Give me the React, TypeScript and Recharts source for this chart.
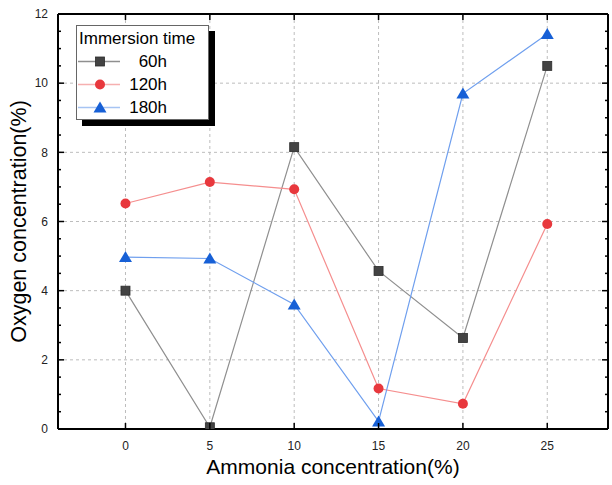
import { LineChart, Line, XAxis, YAxis, CartesianGrid, Legend } from 'recharts';

const ammonia = [0, 5, 10, 15, 20, 25];
const oxygen60h = [4.0, 0.05, 8.15, 4.57, 2.63, 10.5];
const oxygen120h = [6.52, 7.14, 6.93, 1.17, 0.73, 5.93];
const oxygen180h = [4.97, 4.93, 3.6, 0.22, 9.7, 11.42];
const seriesNames = ['60h', '120h', '180h'];

const xTicks = [0, 5, 10, 15, 20, 25];
const yMajor = [0, 2, 4, 6, 8, 10, 12];
const yTicks = [0, 0.5, 1, 1.5, 2, 2.5, 3, 3.5, 4, 4.5, 5, 5.5, 6, 6.5, 7, 7.5, 8, 8.5, 9, 9.5, 10, 10.5, 11, 11.5, 12];

const data = ammonia.map((x, i) => ({
    x,
    s60: oxygen60h[i],
    s120: oxygen120h[i],
    s180: oxygen180h[i],
}));

const FONT = '"Liberation Sans", Arial, sans-serif';

const colors = {
    line60: '#8f8f8f',
    dot60: '#434343',
    line120: '#f58e8e',
    dot120: '#e8383d',
    line180: '#6f9fee',
    dot180: '#1760d6',
};

const Square = ({ cx, cy }: any) => (
    <rect x={cx - 4.5} y={cy - 4.5} width={9} height={9} fill={colors.dot60} stroke="#2b2b2b" strokeWidth={0.8} />
);
const Circle = ({ cx, cy }: any) => <circle cx={cx} cy={cy} r={5} fill={colors.dot120} />;
const Triangle = ({ cx, cy }: any) => (
    <polygon points={`${cx},${cy - 6} ${cx - 6.5},${cy + 5} ${cx + 6.5},${cy + 5}`} fill={colors.dot180} />
);

const isMajor = (v: number) => v % 2 === 0;

const LeftTick = ({ x, y, payload }: any) => (
    <g>
        <line x1={x} y1={y} x2={x + (isMajor(payload.value) ? 6 : 3)} y2={y} stroke="#000" strokeWidth={1.5} />
        {isMajor(payload.value) && (
            <text x={x - 10} y={y} dy="0.35em" textAnchor="end" fontSize={12} fontFamily={FONT} fill="#222">
                {payload.value}
            </text>
        )}
    </g>
);

const RightTick = ({ x, y, payload }: any) => (
    <line x1={x} y1={y} x2={x - (isMajor(payload.value) ? 6 : 3)} y2={y} stroke="#000" strokeWidth={1.5} />
);

const BottomTick = ({ x, y, payload }: any) => (
    <g>
        <line x1={x} y1={y} x2={x} y2={y - 6} stroke="#000" strokeWidth={1.5} />
        <text x={x} y={y + 17} dy="0.35em" textAnchor="middle" fontSize={12} fontFamily={FONT} fill="#222">
            {payload.value}
        </text>
    </g>
);

const TopTick = ({ x, y }: any) => <line x1={x} y1={y} x2={x} y2={y + 6} stroke="#000" strokeWidth={1.5} />;

const legendRows = [
    { name: seriesNames[0], line: colors.line60, Marker: Square },
    { name: seriesNames[1], line: '#f6b0b0', Marker: Circle },
    { name: seriesNames[2], line: '#a6c4f3', Marker: Triangle },
];

const LegendBox = () => (
    <div
        style={{
            width: 133,
            height: 95,
            boxSizing: 'border-box',
            border: '1px solid #666',
            background: '#fff',
            boxShadow: '6px 6px 0 #000',
            fontFamily: FONT,
            color: '#000',
        }}
    >
        <div style={{ fontSize: 17, lineHeight: '22px', marginTop: 2, paddingLeft: 2, whiteSpace: 'nowrap' }}>
            Immersion time
        </div>
        {legendRows.map(({ name, line, Marker }) => (
            <div key={name} style={{ position: 'relative', height: 23 }}>
                <svg width={44} height={23} style={{ position: 'absolute', left: 1, top: 0 }}>
                    <line x1={0} y1={11.5} x2={42} y2={11.5} stroke={line} strokeWidth={1.5} />
                    <Marker cx={22} cy={11.5} />
                </svg>
                <div
                    style={{
                        position: 'absolute',
                        left: 48,
                        width: 42,
                        textAlign: 'right',
                        fontSize: 17,
                        lineHeight: '23px',
                    }}
                >
                    {name}
                </div>
            </div>
        ))}
    </div>
);

export default function App() {
    return (
        <div style={{ position: 'absolute', left: 0, top: 0 }}>
            <LineChart width={612} height={485} data={data} margin={{ top: 13, right: 3, left: 0, bottom: 0 }}>
                <CartesianGrid
                    xAxisId="bottom"
                    yAxisId="left"
                    stroke="#bdbdbd"
                    strokeDasharray="3 3"
                    horizontalValues={yMajor}
                    verticalValues={xTicks}
                />
                <XAxis
                    xAxisId="bottom"
                    dataKey="x"
                    type="number"
                    domain={[-4, 28.6]}
                    allowDataOverflow
                    ticks={xTicks}
                    interval={0}
                    height={56}
                    tickSize={0}
                    tickMargin={0}
                    tickLine={false}
                    tick={BottomTick}
                    axisLine={{ stroke: '#000', strokeWidth: 2 }}
                    label={{
                        value: 'Ammonia concentration(%)',
                        position: 'insideBottom',
                        offset: 11,
                        style: { fontSize: 21, fontFamily: FONT, fill: '#000' },
                    }}
                />
                <XAxis
                    xAxisId="top"
                    orientation="top"
                    dataKey="x"
                    type="number"
                    domain={[-4, 28.6]}
                    allowDataOverflow
                    ticks={xTicks}
                    interval={0}
                    height={1}
                    tickSize={0}
                    tickMargin={0}
                    tickLine={false}
                    tick={TopTick}
                    axisLine={{ stroke: '#000', strokeWidth: 2 }}
                />
                <YAxis
                    yAxisId="left"
                    type="number"
                    domain={[0, 12]}
                    allowDataOverflow
                    ticks={yTicks}
                    interval={0}
                    width={58}
                    tickSize={0}
                    tickMargin={0}
                    tickLine={false}
                    tick={LeftTick}
                    axisLine={{ stroke: '#000', strokeWidth: 2 }}
                    label={{
                        value: 'Oxygen concentration(%)',
                        angle: -90,
                        position: 'insideLeft',
                        offset: 18,
                        style: { fontSize: 21.5, fontFamily: FONT, fill: '#000', textAnchor: 'middle' },
                    }}
                />
                <YAxis
                    yAxisId="right"
                    orientation="right"
                    type="number"
                    domain={[0, 12]}
                    allowDataOverflow
                    ticks={yTicks}
                    interval={0}
                    width={1}
                    tickSize={0}
                    tickMargin={0}
                    tickLine={false}
                    tick={RightTick}
                    axisLine={{ stroke: '#000', strokeWidth: 2 }}
                />
                <Legend
                    layout="vertical"
                    align="center"
                    verticalAlign="middle"
                    content={LegendBox}
                    wrapperStyle={{ left: 76, top: 25, width: 133 }}
                />
                <Line
                    xAxisId="top"
                    yAxisId="right"
                    dataKey="s60"
                    stroke="none"
                    dot={false}
                    activeDot={false}
                    legendType="none"
                    isAnimationActive={false}
                />
                <Line
                    xAxisId="bottom"
                    yAxisId="left"
                    dataKey="s60"
                    name={seriesNames[0]}
                    stroke={colors.line60}
                    strokeWidth={1.2}
                    dot={(p: any) => <Square key={`a${p.index}`} cx={p.cx} cy={p.cy} />}
                    isAnimationActive={false}
                />
                <Line
                    xAxisId="bottom"
                    yAxisId="left"
                    dataKey="s120"
                    name={seriesNames[1]}
                    stroke={colors.line120}
                    strokeWidth={1.2}
                    dot={(p: any) => <Circle key={`b${p.index}`} cx={p.cx} cy={p.cy} />}
                    isAnimationActive={false}
                />
                <Line
                    xAxisId="bottom"
                    yAxisId="left"
                    dataKey="s180"
                    name={seriesNames[2]}
                    stroke={colors.line180}
                    strokeWidth={1.2}
                    dot={(p: any) => <Triangle key={`c${p.index}`} cx={p.cx} cy={p.cy} />}
                    isAnimationActive={false}
                />
            </LineChart>
        </div>
    );
}
